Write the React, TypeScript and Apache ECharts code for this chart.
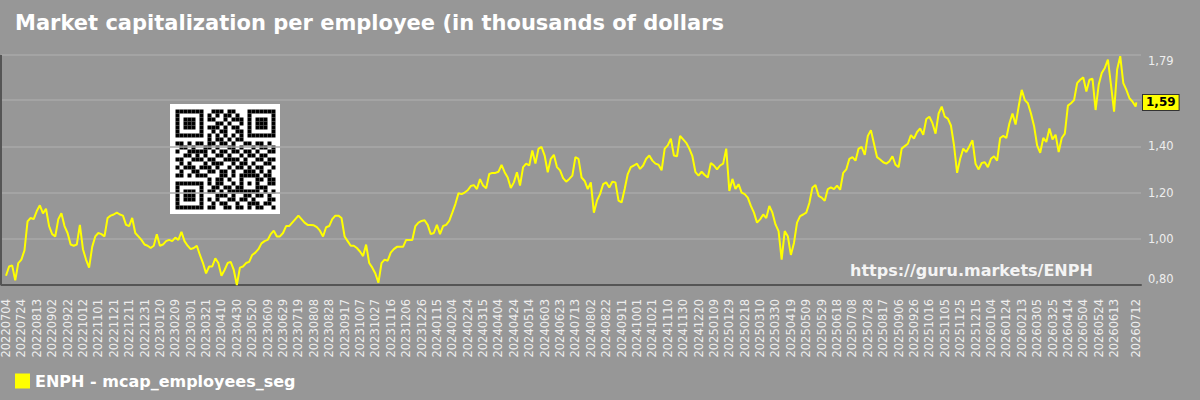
import { useEffect, useRef } from 'react';
import * as echarts from 'echarts';

const TITLE = 'Market capitalization per employee (in thousands of dollars';
const SERIES_NAME = 'ENPH - mcap_employees_seg';
const WATERMARK = 'https://guru.markets/ENPH';

// daily category axis: 2022-07-04 .. 2026-07-12
const START_YEAR = 2022;
const START_MONTH = 7;
const START_DAY = 4;
const DAY_COUNT = 1470;
const LABEL_EVERY_DAYS = 20;

// values, one every 4 days starting 2022-07-04
const SAMPLE_STEP_DAYS = 4;
const sampledValues = [
  0.84, 0.88, 0.885, 0.82, 0.895, 0.91, 0.95, 1.075, 1.09, 1.085,
  1.12, 1.145, 1.11, 1.13, 1.055, 1.02, 1.01, 1.085, 1.11, 1.055,
  1.025, 0.975, 0.97, 0.975, 1.06, 0.955, 0.91, 0.875, 0.965, 1.01,
  1.025, 1.02, 1.01, 1.09, 1.10, 1.105, 1.113, 1.105, 1.10, 1.06,
  1.055, 1.09, 1.025, 1.01, 0.995, 0.975, 0.97, 0.96, 0.97, 1.02,
  0.97, 0.975, 0.99, 0.995, 0.99, 1.005, 0.995, 1.03, 0.99, 0.97,
  0.955, 0.96, 0.97, 0.93, 0.895, 0.85, 0.88, 0.88, 0.915, 0.895,
  0.84, 0.865, 0.895, 0.90, 0.865, 0.80, 0.875, 0.88, 0.895, 0.90,
  0.93, 0.94, 0.955, 0.98, 0.99, 0.995, 1.02, 1.035, 1.01, 1.01,
  1.025, 1.055, 1.055, 1.07, 1.085, 1.10, 1.085, 1.07, 1.06, 1.06,
  1.058, 1.05, 1.035, 1.01, 1.05, 1.055, 1.085, 1.10, 1.10, 1.09,
  1.01, 0.99, 0.97, 0.97, 0.96, 0.945, 0.925, 0.975, 0.895, 0.875,
  0.85, 0.81, 0.895, 0.91, 0.905, 0.94, 0.955, 0.965, 0.965,
  0.965, 0.995, 0.995, 0.995, 1.055, 1.07, 1.077, 1.08, 1.06, 1.02,
  1.025, 1.06, 1.02, 1.055, 1.06, 1.077, 1.113, 1.15, 1.197, 1.193,
  1.20, 1.21, 1.228, 1.232, 1.215, 1.258, 1.23, 1.218, 1.28, 1.285,
  1.285, 1.29, 1.32, 1.288, 1.265, 1.22, 1.244, 1.288, 1.23, 1.31,
  1.325, 1.317, 1.382, 1.325, 1.39, 1.397, 1.36, 1.288, 1.346, 1.363,
  1.31, 1.296, 1.262, 1.247, 1.259, 1.273, 1.353, 1.346, 1.265, 1.25,
  1.215, 1.244, 1.113, 1.165, 1.193, 1.236, 1.244, 1.222, 1.247, 1.244,
  1.165, 1.157, 1.215, 1.28, 1.31, 1.317, 1.325, 1.302, 1.317, 1.346,
  1.36, 1.338, 1.325, 1.32, 1.296, 1.39, 1.404, 1.433, 1.36, 1.357,
  1.445, 1.43, 1.415, 1.39, 1.357, 1.288, 1.273, 1.29, 1.276, 1.265,
  1.328, 1.317, 1.30, 1.317, 1.325, 1.39, 1.207, 1.259, 1.215, 1.236,
  1.20, 1.193, 1.178, 1.142, 1.113, 1.07, 1.084, 1.105, 1.09, 1.142,
  1.113, 1.062, 1.033, 0.91, 1.033, 1.011, 0.93, 0.982, 1.07, 1.098,
  1.105, 1.113, 1.155, 1.222, 1.232, 1.186, 1.178, 1.164, 1.215, 1.222,
  1.215, 1.23, 1.212, 1.285, 1.30, 1.346, 1.353, 1.338, 1.39, 1.397,
  1.363, 1.445, 1.47, 1.411, 1.353, 1.343, 1.331, 1.325, 1.335, 1.357,
  1.32, 1.31, 1.39, 1.401, 1.411, 1.448, 1.433, 1.462, 1.477, 1.45,
  1.518, 1.528, 1.50, 1.455, 1.542, 1.572, 1.528, 1.52, 1.49, 1.404,
  1.285, 1.346, 1.39, 1.375, 1.40, 1.426, 1.324, 1.30, 1.328, 1.331,
  1.31, 1.346, 1.357, 1.338, 1.436, 1.445, 1.436, 1.50, 1.542, 1.494,
  1.572, 1.644, 1.60, 1.586, 1.542, 1.488, 1.404, 1.372, 1.436, 1.419,
  1.477, 1.43, 1.45, 1.375, 1.436, 1.455, 1.576, 1.586, 1.60, 1.673,
  1.688, 1.698, 1.637, 1.688, 1.692, 1.557, 1.666, 1.717, 1.739, 1.775,
  1.666, 1.55, 1.732, 1.79, 1.673, 1.644, 1.608, 1.593, 1.572,
];
const lastValue = 1.59; // value on 2026-07-12

const Y_MIN = 0.8;
const Y_MAX = 1.795;
const Y_INTERVAL = 0.2;

const qrRows = [
  '1111111001110110001111111',
  '1000001010101101001000001',
  '1011101011001011101011101',
  '1011101000110100101011101',
  '1011101011101011001011101',
  '1000001001011001101000001',
  '1111111010101010101111111',
  '0000000010110101100000000',
  '1101011011011010011011010',
  '0110100110100110100101101',
  '1001111101011011011010011',
  '0011010100110100101101100',
  '1100111011001111010011011',
  '0101000101110010110100110',
  '1011101110100101101011001',
  '0100110011011010011101010',
  '1101011100011010111110110',
  '0000000010110100100011011',
  '1111111010110010101010011',
  '1000001001101101100011100',
  '1011101011010111111110101',
  '1011101000111010011011010',
  '1011101010100110110100011',
  '1000001001011001001110110',
  '1111111011001101101011001',
];

const PAD = 6;
const FONT = '"DejaVu Sans", Verdana, sans-serif';
const BG = '#979797';

function buildDates(): string[] {
  const out: string[] = [];
  const t0 = Date.UTC(START_YEAR, START_MONTH - 1, START_DAY);
  for (let i = 0; i < DAY_COUNT; i++) {
    const d = new Date(t0 + i * 86400000);
    const y = d.getUTCFullYear();
    const m = String(d.getUTCMonth() + 1).padStart(2, '0');
    const dd = String(d.getUTCDate()).padStart(2, '0');
    out.push(`${y}${m}${dd}`);
  }
  return out;
}

function fmt(v: number): string {
  return v.toFixed(2).replace('.', ',');
}

export default function App() {
  const ref = useRef<HTMLDivElement>(null);

  useEffect(() => {
    if (!ref.current) return;
    const chart = echarts.init(ref.current, undefined, { renderer: 'svg' });

    const dates = buildDates();
    const categories: string[] = [];
    for (let i = 0; i < PAD; i++) categories.push(`pad_start_${i}`);
    categories.push(...dates);
    for (let i = 0; i < PAD; i++) categories.push(`pad_end_${i}`);

    const data: (number | null)[] = new Array(categories.length).fill(null);
    sampledValues.forEach((v, k) => {
      data[PAD + k * SAMPLE_STEP_DAYS] = v;
    });
    data[PAD + DAY_COUNT - 1] = lastValue;

    const lastIdx = DAY_COUNT - 1;
    const labelInterval = (index: number) => {
      const r = index - PAD;
      if (r < 0 || r > lastIdx) return false;
      if (r === lastIdx) return true;
      return r % LABEL_EVERY_DAYS === 0 && lastIdx - r >= 15;
    };

    const qrX = 170;
    const qrY = 104;
    const mod = 4;
    const qrChildren: any[] = [
      { type: 'rect', shape: { x: 0, y: 0, width: 110, height: 110 }, style: { fill: '#ffffff' } },
    ];
    qrRows.forEach((row, r) => {
      for (let c = 0; c < row.length; c++) {
        if (row[c] === '1') {
          qrChildren.push({
            type: 'rect',
            shape: { x: 5.5 + c * mod, y: 5.5 + r * mod, width: mod, height: mod },
            style: { fill: '#000000' },
          });
        }
      }
    });

    chart.setOption({
      animation: false,
      backgroundColor: BG,
      textStyle: { fontFamily: FONT },
      title: {
        text: TITLE,
        left: 15,
        top: 12,
        padding: 0,
        textStyle: { color: '#ffffff', fontSize: 21, fontWeight: 'bold', fontFamily: FONT },
      },
      legend: {
        data: [SERIES_NAME],
        left: 15,
        top: 373,
        padding: 0,
        icon: 'rect',
        itemWidth: 15,
        itemHeight: 15,
        itemGap: 10,
        textStyle: { color: '#ffffff', fontSize: 16, fontWeight: 'bold', fontFamily: FONT },
      },
      grid: { left: 0, right: 59, top: 55, bottom: 115, containLabel: false },
      xAxis: {
        type: 'category',
        data: categories,
        boundaryGap: false,
        axisLine: { show: true, lineStyle: { color: '#555555', width: 2 } },
        axisTick: { show: false },
        splitLine: { show: false },
        axisLabel: {
          interval: labelInterval,
          rotate: 90,
          margin: 14,
          color: '#eeeeee',
          fontSize: 11.5,
          fontFamily: FONT,
        },
      },
      yAxis: {
        type: 'value',
        position: 'right',
        min: Y_MIN,
        max: Y_MAX,
        interval: Y_INTERVAL,
        axisLine: { show: false },
        axisTick: { show: false },
        splitLine: { show: true, lineStyle: { color: '#a9a9a9', width: 1.5 } },
        axisLabel: {
          color: '#eeeeee',
          fontSize: 11.5,
          margin: 7,
          fontFamily: FONT,
          formatter: (v: number) => fmt(v),
          verticalAlignMinLabel: 'bottom',
          verticalAlignMaxLabel: 'top',
        },
      },
      graphic: [
        {
          type: 'line',
          shape: { x1: 1, y1: 55, x2: 1, y2: 285 },
          style: { stroke: '#555555', lineWidth: 2 },
          z: 10,
        },
        { type: 'group', x: qrX, y: qrY, children: qrChildren, z: 5 },
        {
          type: 'text',
          x: 850,
          y: 270,
          style: {
            text: WATERMARK,
            fill: '#f4f4f4',
            font: `bold 16px ${FONT}`,
            textVerticalAlign: 'middle',
            verticalAlign: 'middle',
          },
          z: 10,
        },
      ],
      series: [
        {
          name: SERIES_NAME,
          type: 'line',
          data,
          connectNulls: true,
          showSymbol: false,
          symbol: 'none',
          color: '#ffff00',
          lineStyle: { color: '#ffff00', width: 2 },
          markLine: {
            silent: true,
            symbol: 'none',
            lineStyle: { color: 'rgba(0,0,0,0)', width: 0, type: 'solid' },
            data: [{ yAxis: lastValue }],
            label: {
              show: true,
              position: 'end',
              distance: 2,
              formatter: () => fmt(lastValue),
              color: '#000000',
              fontWeight: 'bold',
              fontSize: 12,
              fontFamily: FONT,
              backgroundColor: '#ffff00',
              borderColor: '#333333',
              borderWidth: 1,
              padding: [2, 3, 1, 3],
              opacity: 1,
            },
          },
        },
      ],
    });

    return () => chart.dispose();
  }, []);

  return (
    <div
      ref={ref}
      style={{ position: 'fixed', left: 0, top: 0, width: 1200, height: 400 }}
    />
  );
}
